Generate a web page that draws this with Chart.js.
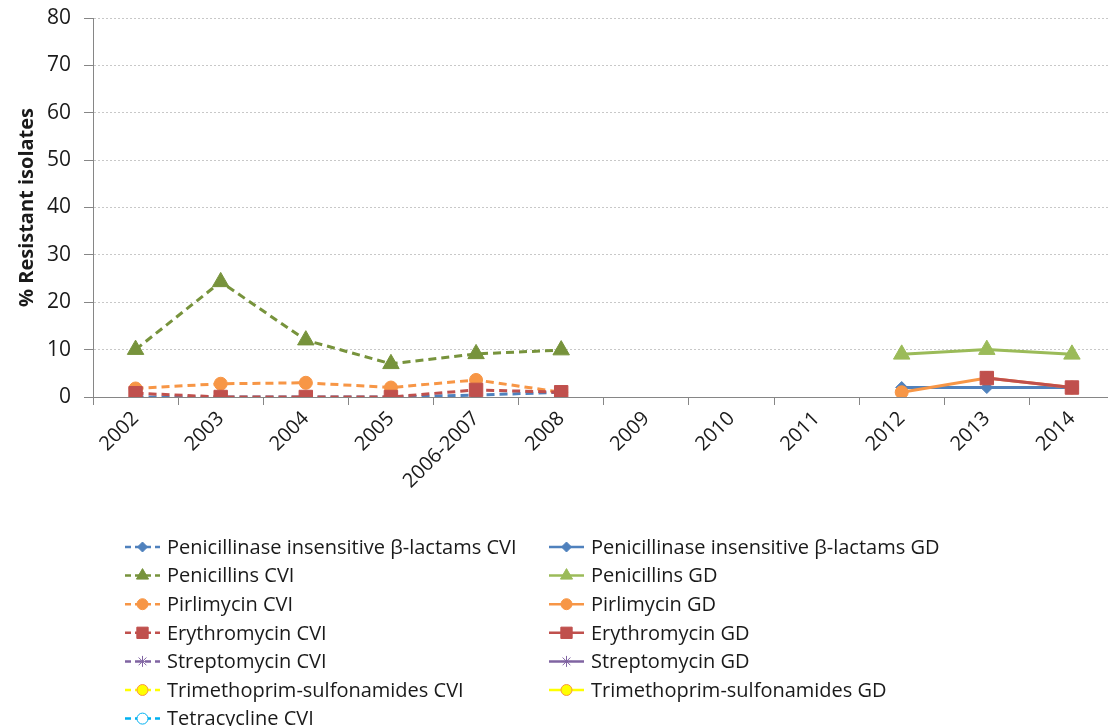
<!DOCTYPE html>
<html>
<head>
<meta charset="utf-8">
<script src="https://cdn.jsdelivr.net/npm/chart.js@4/dist/chart.umd.min.js"></script>
<style>
  html, body { margin: 0; padding: 0; background: #fff; overflow: hidden; }
  #wrap { width: 1125px; height: 726px; }
</style>
</head>
<body>
<div id="wrap"><canvas id="myChart" width="1125" height="726"></canvas></div>
<script>
const years = ['2002', '2003', '2004', '2005', '2006-2007', '2008', '2009', '2010', '2011', '2012', '2013', '2014'];
const yTicks = [0, 10, 20, 30, 40, 50, 60, 70, 80];

const pibCVI = [0, 0, 0, 0, 0.4, 1, null, null, null, null, null, null];
const pibGD = [null, null, null, null, null, null, null, null, null, 2, 2, 2];
const penCVI = [10, 24.3, 12, 7, 9.1, 9.9, null, null, null, null, null, null];
const penGD = [null, null, null, null, null, null, null, null, null, 9, 10, 9];
const pirCVI = [1.8, 2.8, 3, 2, 3.6, 1, null, null, null, null, null, null];
const pirGD = [null, null, null, null, null, null, null, null, null, 1, 4, 2];
const eryCVI = [0.8, 0, 0, 0, 1.5, 1, null, null, null, null, null, null];
const eryGD = [null, null, null, null, null, null, null, null, null, null, 4, 2];
const strepCVI = [null, null, null, null, null, null, null, null, null, null, null, null];
const strepGD = [null, null, null, null, null, null, null, null, null, null, null, null];
const trimCVI = [null, null, null, null, null, null, null, null, null, null, null, null];
const trimGD = [null, null, null, null, null, null, null, null, null, null, null, null];
const tetCVI = [null, null, null, null, null, null, null, null, null, null, null, null];

const FONT = '"Open Sans", "Noto Sans", sans-serif';
const DASH = [8, 5];

function series(label, data, color, style, radius, dashed, fill) {
  return {
    label: label,
    data: data,
    borderColor: color,
    backgroundColor: fill || color,
    pointBackgroundColor: fill || color,
    pointBorderColor: color,
    pointStyle: style,
    pointRadius: radius,
    pointHoverRadius: radius,
    pointBorderWidth: 1,
    borderWidth: 3,
    borderDash: dashed ? DASH : [],
    spanGaps: false,
    tension: 0
  };
}

const datasets = [
  series('Penicillinase insensitive β-lactams CVI', pibCVI, '#4F81BD', 'rectRot', 6, true),
  series('Penicillinase insensitive β-lactams GD', pibGD, '#4F81BD', 'rectRot', 6, false),
  series('Penicillins CVI', penCVI, '#77933C', 'triangle', 9.5, true),
  series('Penicillins GD', penGD, '#9BBB59', 'triangle', 9.5, false),
  series('Pirlimycin CVI', pirCVI, '#F79646', 'circle', 6.5, true),
  series('Pirlimycin GD', pirGD, '#F79646', 'circle', 6.5, false),
  series('Erythromycin CVI', eryCVI, '#C0504D', 'rect', 9.5, true),
  series('Erythromycin GD', eryGD, '#C0504D', 'rect', 9.5, false),
  series('Streptomycin CVI', strepCVI, '#8064A2', 'star', 6, true),
  series('Streptomycin GD', strepGD, '#8064A2', 'star', 6, false),
  series('Trimethoprim-sulfonamides CVI', trimCVI, '#FFFF00', 'circle', 6.5, true, '#FFFF00'),
  series('Trimethoprim-sulfonamides GD', trimGD, '#FFFF00', 'circle', 6.5, false, '#FFFF00'),
  series('Tetracycline CVI', tetCVI, '#00B0F0', 'circle', 6.5, true, '#FFFFFF')
];
// yellow markers have an orange rim in the original
datasets[10].pointBorderColor = '#F79646';
datasets[11].pointBorderColor = '#F79646';
// later series sit on top, as in the spreadsheet
datasets.forEach((ds, i) => { ds.order = -i; });

const legendSizes = { rectRot: 5, triangle: 7, circle: 5.5, rect: 8, star: 5.5 };

// legend drawn in two columns under the axis, like the spreadsheet original
const legendPlugin = {
  id: 'twoColLegend',
  afterDraw(chart) {
    const ctx = chart.ctx;
    const colX = [125, 549];
    const rowY0 = 547;
    const rowH = 28.6;
    ctx.save();
    chart.data.datasets.forEach((ds, i) => {
      const x = colX[i % 2];
      const y = rowY0 + Math.floor(i / 2) * rowH;
      ctx.strokeStyle = ds.borderColor;
      ctx.lineWidth = 2.5;
      ctx.setLineDash(ds.borderDash.length ? [6, 4] : []);
      ctx.beginPath();
      ctx.moveTo(x, y);
      ctx.lineTo(x + 35, y);
      ctx.stroke();
      ctx.setLineDash([]);
      ctx.fillStyle = ds.pointBackgroundColor;
      ctx.strokeStyle = ds.pointBorderColor;
      ctx.lineWidth = 1;
      Chart.helpers.drawPoint(ctx, {
        pointStyle: ds.pointStyle,
        radius: legendSizes[ds.pointStyle],
        rotation: 0,
        borderWidth: 1
      }, x + 17.5, y);
      ctx.fillStyle = '#1a1a1a';
      ctx.font = '20px ' + FONT;
      ctx.textBaseline = 'middle';
      ctx.textAlign = 'left';
      ctx.fillText(ds.label, x + 42, y + 1);
    });
    ctx.restore();
  }
};

const ctx = document.getElementById('myChart').getContext('2d');
new Chart(ctx, {
  type: 'line',
  data: { labels: years, datasets: datasets },
  options: {
    responsive: false,
    animation: false,
    layout: { padding: { top: 18, right: 9, bottom: 0, left: 0 } },
    plugins: {
      legend: { display: false },
      tooltip: { enabled: false }
    },
    scales: {
      x: {
        offset: true,
        grid: {
          offset: true,
          drawOnChartArea: false,
          drawTicks: true,
          tickLength: 8,
          color: '#868686'
        },
        border: { color: '#868686', width: 1 },
        ticks: {
          color: '#1a1a1a',
          font: { family: FONT, size: 20 },
          minRotation: 45,
          maxRotation: 45,
          autoSkip: false,
          padding: 2
        },
        afterFit(scale) { scale.height = 329; }
      },
      y: {
        min: 0,
        max: 80,
        afterBuildTicks(scale) { scale.ticks = yTicks.map(v => ({ value: v })); },
        grid: {
          color: '#c8c8c8',
          tickColor: '#868686',
          tickLength: 9,
          drawTicks: true,
          lineWidth: 1
        },
        border: { color: '#868686', width: 1, dash: [2, 2] },
        ticks: {
          color: '#1a1a1a',
          font: { family: FONT, size: 21 },
          padding: 13
        },
        title: {
          display: true,
          text: '% Resistant isolates',
          color: '#1a1a1a',
          font: { family: FONT, size: 20, weight: 'bold' },
          padding: { top: 15, bottom: 0 }
        },
        afterFit(scale) {
          scale.width = 93;
          scale.paddingTop = 0;
          scale.paddingBottom = 0;
        }
      }
    }
  },
  plugins: [legendPlugin]
});
</script>
</body>
</html>
